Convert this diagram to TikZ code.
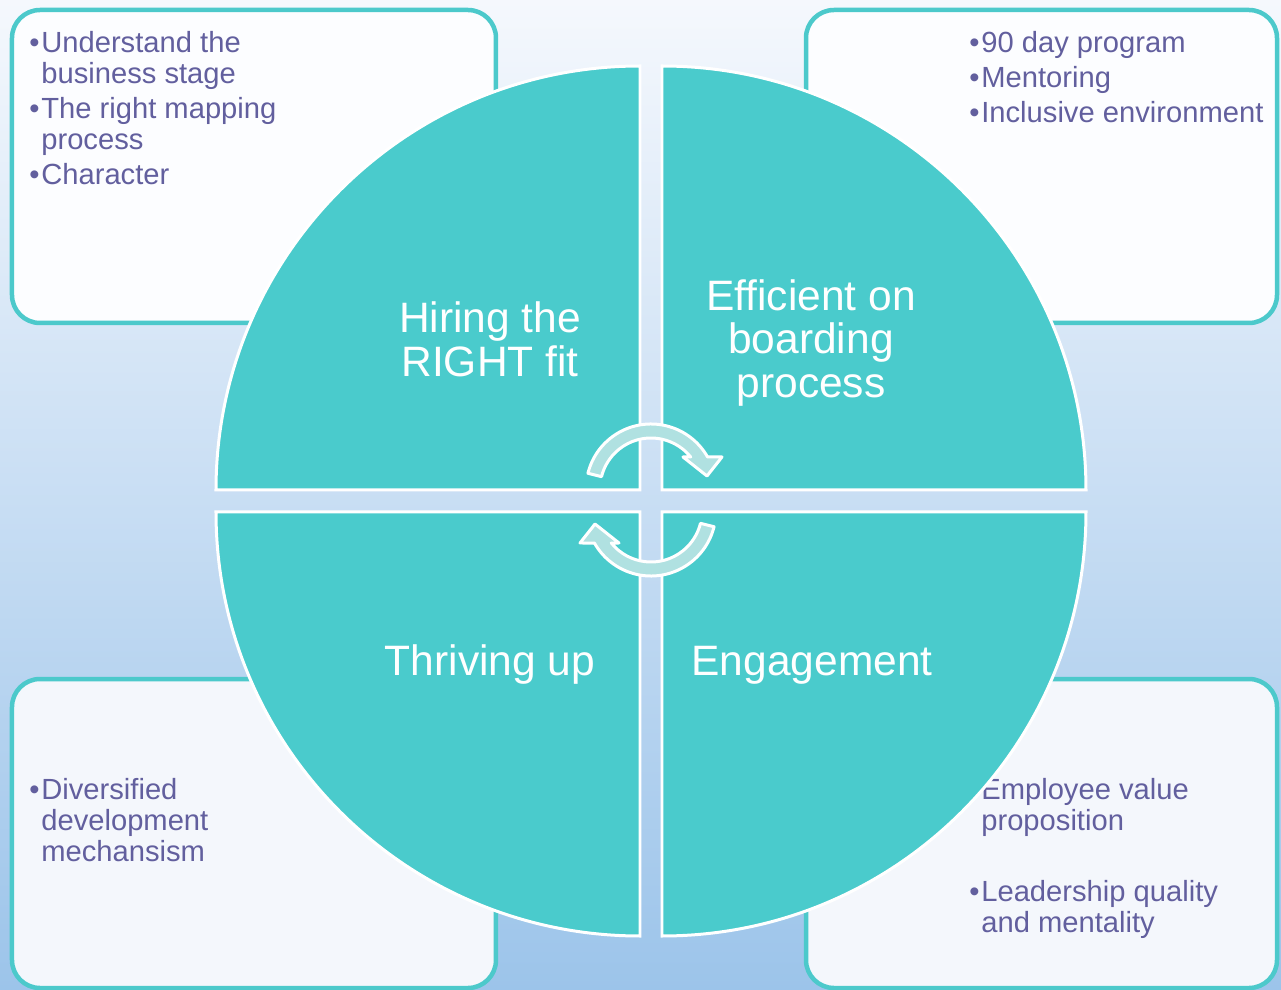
\documentclass[tikz,border=0pt]{standalone}
\usepackage{fontspec}
\setmainfont{Liberation Sans}
\usepackage{tikz}

\definecolor{quadfill}{HTML}{4ACBCC}
\definecolor{boxline}{HTML}{4CC9CB}
\definecolor{inktext}{HTML}{625F9E}
\definecolor{turnfill}{HTML}{B0E1E1}
\definecolor{bgtop}{HTML}{F5F8FD}
\definecolor{bgbot}{HTML}{9CC4EA}
\definecolor{boxtop}{HTML}{FCFDFF}
\definecolor{boxbot}{HTML}{F4F7FC}

\newcommand{\itembul}{\makebox[0.24cm][l]{\textbullet}}
\newcommand{\itemind}{\hspace*{0.24cm}}

\begin{document}
\begin{tikzpicture}[x=0.02cm, y=0.02cm,
  quad/.style={fill=quadfill, draw=white, line width=0.06cm},
  infobox/.style={draw=boxline, line width=0.09cm, rounded corners=0.56cm},
  turn/.style={fill=turnfill, draw=white, line width=0.06cm, line join=round},
  quadtext/.style={text=white, align=center, font=\fontsize{24.2pt}{25pt}\selectfont},
  pointlist/.style={text=inktext, align=left, anchor=north west, inner sep=0pt,
    font=\fontsize{16.6pt}{17.6pt}\selectfont}]
\useasboundingbox (-651,-489) rectangle (630,501);
\fill[top color=bgtop, bottom color=bgbot] (-651,-489) rectangle (630,501);

% corner boxes
\draw[infobox, fill=boxtop] (-639,491) rectangle (-155,178);
\draw[infobox, fill=boxtop] (155,491) rectangle (626,178);
\draw[infobox, fill=boxbot] (-639,-178) rectangle (-155,-487);
\draw[infobox, fill=boxbot] (155,-178) rectangle (626,-487);

\node[pointlist] (hirelist) at (-622,470) {\itembul Understand the\\\itemind business stage\\[0.08cm]\itembul The right mapping\\\itemind process\\[0.08cm]\itembul Character};
\node[pointlist] (boardlist) at (318,470) {\itembul 90 day program\\[0.08cm]\itembul Mentoring\\[0.08cm]\itembul Inclusive environment};
\node[pointlist] (thrivelist) at (-622,-277) {\itembul Diversified\\\itemind development\\\itemind mechansism};
\node[pointlist] (engagelist) at (318,-277) {\itembul Employee value\\\itemind proposition\\[0.8cm]\itembul Leadership quality\\\itemind and mentality};

% four quarters
\foreach \sx/\sy/\a in {-1/1/90, 1/1/0, -1/-1/180, 1/-1/270}
\draw[quad] (\sx*11,\sy*11) -- ++(\a:424) arc [start angle=\a, delta angle=90, radius=424] -- cycle;

\node[quadtext] (hire) at (-161,162) {Hiring the\\RIGHT fit};
\node[quadtext] (board) at (160,158) {Efficient on\\boarding\\process};
\node[quadtext] (thrive) at (-161,-164) {Thriving up};
\node[quadtext] (engage) at (161,-164) {Engagement};

% turning arrows
\foreach \dy/\rot in {12/0, -10/180}
\draw[turn, shift={(0,\dy)}, rotate=\rot] (166:65) arc [start angle=166, end angle=29.5, radius=65]
  -- (71,32) -- (56,13) -- (32,32) -- (38.9:51) arc [start angle=38.9, end angle=166, radius=51] -- cycle;
\end{tikzpicture}
\end{document}
